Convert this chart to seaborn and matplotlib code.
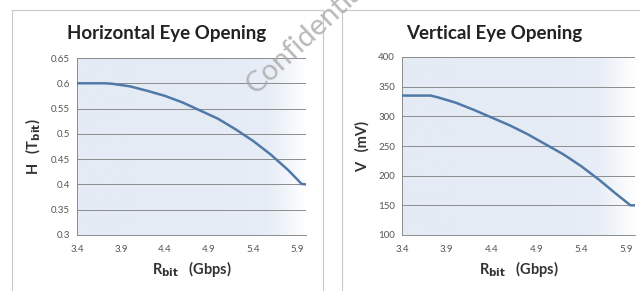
import numpy as np
import pandas as pd
import matplotlib
matplotlib.use("Agg")
import matplotlib.pyplot as plt
import seaborn as sns
from matplotlib.patches import Rectangle
from matplotlib.colors import LinearSegmentedColormap

# data
rate = [3.4, 3.6, 3.72, 3.8, 4.0, 4.2, 4.4, 4.6, 4.8, 5.0, 5.2, 5.4, 5.6, 5.8, 5.95, 6.0]
h_open = [0.6, 0.6, 0.6, 0.599, 0.594, 0.585, 0.575, 0.562, 0.546, 0.530, 0.509,
          0.486, 0.459, 0.428, 0.401, 0.400]
v_open = [335, 335, 335, 332, 323, 311, 298, 285, 270, 253, 236, 216, 193, 168, 150, 150]
x_ticks = [3.4, 3.9, 4.4, 4.9, 5.4, 5.9]
h_ticks = [0.3, 0.35, 0.4, 0.45, 0.5, 0.55, 0.6, 0.65]
v_ticks = [100, 150, 200, 250, 300, 350, 400]

df = pd.DataFrame({"rate": rate, "H": h_open, "V": v_open})

sns.set_style("white")
plt.rcParams['font.family'] = ['Lato', 'DejaVu Sans']

fig = plt.figure(figsize=(6.4, 2.91), dpi=100)

# panel frames
for x0, x1 in [(12, 323), (342, 660)]:
    fig.patches.append(Rectangle((x0 / 640, -0.1), (x1 - x0) / 640, 1.1 - 10 / 291,
                                 transform=fig.transFigure, fill=False,
                                 edgecolor='#c8c8c8', linewidth=0.8))

grad = LinearSegmentedColormap.from_list("bg", ["#e4ebf5", "#e8eef7", "#ffffff"])


def draw_panel(rect, col, yticks, ylim, ylabel, title, title_x, fmt):
    ax = fig.add_axes(rect)
    ax.imshow(np.linspace(0, 1, 200)[None, :] ** 4, aspect='auto', cmap=grad,
              extent=[3.4, 6.0, ylim[0], ylim[1]], zorder=0)
    for y in yticks[1:]:
        ax.axhline(y, color='#8c8c8c', linewidth=0.7, zorder=1)
    sns.lineplot(data=df, x="rate", y=col, ax=ax, color='#5079a8', linewidth=1.8, zorder=3)
    ax.set_xlim(3.4, 6.0)
    ax.set_ylim(*ylim)
    ax.set_xticks(x_ticks)
    ax.set_xticklabels([str(t) for t in x_ticks])
    ax.set_yticks(yticks)
    ax.set_yticklabels([fmt(t) for t in yticks])
    ax.tick_params(axis='both', labelsize=7, labelcolor='#555555', length=3,
                   color='#8c8c8c', width=0.7, direction='out', pad=2)
    ax.tick_params(axis='x', pad=4)
    for s in ['top', 'right']:
        ax.spines[s].set_visible(False)
    for s in ['left', 'bottom']:
        ax.spines[s].set_color('#8c8c8c')
        ax.spines[s].set_linewidth(0.7)
    ax.set_xlabel(r"R$_\mathbf{bit}$   (Gbps)", fontsize=10.5, fontweight='bold',
                  color='#333333', labelpad=4)
    ax.set_ylabel(ylabel, fontsize=10.5, fontweight='bold', color='#333333', labelpad=6)
    # Excel-style title centred on the chart frame, not the plot area
    fig.text(title_x / 640, 1 - 33 / 291, title, fontsize=13.5, fontweight='bold',
             color='#222222', ha='center', va='center')
    return ax


draw_panel([77 / 640, 1 - 235 / 291, 229 / 640, 177 / 291], "H", h_ticks, (0.3, 0.65),
           r"H   (T$_\mathbf{bit}$)", "Horizontal Eye Opening", 167,
           lambda t: ("%g" % t))
draw_panel([402 / 640, 1 - 235 / 291, 233 / 640, 178 / 291], "V", v_ticks, (100, 400),
           r"V   (mV)", "Vertical Eye Opening", 494, lambda t: str(t))

fig.text(259 / 640, 1 - 99 / 291, "Confidential", rotation=43, fontsize=21,
         color='#a8a8a8', alpha=0.8, ha='left', va='bottom', rotation_mode='anchor')

fig.savefig("out.png", dpi=100)
